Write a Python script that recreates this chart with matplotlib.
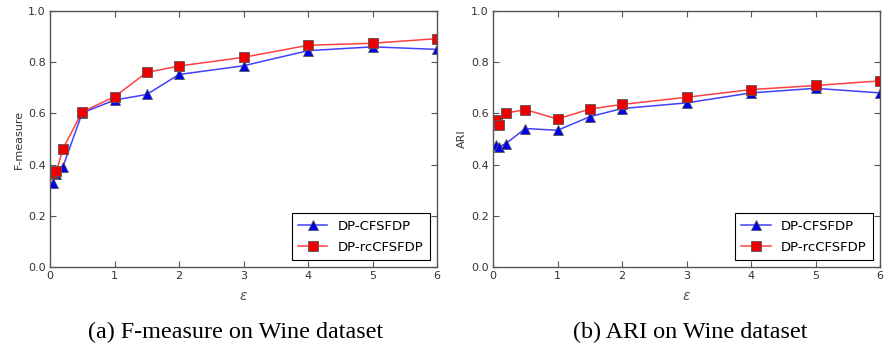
import matplotlib
matplotlib.use("Agg")
import matplotlib.pyplot as plt

eps = [0.05, 0.1, 0.2, 0.5, 1, 1.5, 2, 3, 4, 5, 6]
f_cfsfdp = [0.329, 0.362, 0.391, 0.602, 0.652, 0.674, 0.752, 0.786, 0.845, 0.860, 0.850]
f_rc = [0.368, 0.374, 0.462, 0.606, 0.665, 0.760, 0.785, 0.819, 0.866, 0.874, 0.892]
ari_cfsfdp = [0.475, 0.470, 0.482, 0.541, 0.534, 0.587, 0.619, 0.641, 0.680, 0.698, 0.680]
ari_rc = [0.574, 0.556, 0.601, 0.615, 0.578, 0.617, 0.635, 0.663, 0.693, 0.709, 0.727]

xticks = [0, 1, 2, 3, 4, 5, 6]
yticks = [0.0, 0.2, 0.4, 0.6, 0.8, 1.0]
ylabels = ["F-measure", "ARI"]
captions = ["(a) F-measure on Wine dataset", "(b) ARI on Wine dataset"]
series = [(f_cfsfdp, f_rc), (ari_cfsfdp, ari_rc)]

fig = plt.figure(figsize=(8.84, 3.52), dpi=100)
lefts = [50 / 884, 493 / 884]
tick_col = "#333333"
for i in range(2):
    ax = fig.add_axes([lefts[i], 1 - 267 / 352, 387 / 884, 256 / 352])
    b, r = series[i]
    ax.plot(eps, b, color=(0, 0, 1, 0.75), marker="^", markersize=6.5, lw=1.1,
            markerfacecolor="#0000ee", markeredgecolor="#555555",
            markeredgewidth=0.6, label="DP-CFSFDP")
    ax.plot(eps, r, color=(1, 0, 0, 0.75), marker="s", markersize=6.5, lw=1.1,
            markerfacecolor="#ee0000", markeredgecolor="#555555",
            markeredgewidth=0.6, label="DP-rcCFSFDP")
    ax.set_xlim(0, 6)
    ax.set_ylim(0, 1)
    ax.set_xticks(xticks)
    ax.set_yticks(yticks)
    ax.set_yticklabels([f"{v:.1f}" for v in yticks])
    ax.tick_params(direction="in", top=True, right=True, labelsize=8,
                   colors="#555555", labelcolor=tick_col, length=4, pad=3)
    for s in ax.spines.values():
        s.set_color("#555555")
        s.set_linewidth(1.0)
    ax.set_ylabel(ylabels[i], fontsize=8, color=tick_col, labelpad=3)
    ax.set_xlabel(r"$\varepsilon$", fontsize=10, color="#555555", labelpad=6)
    leg = ax.legend(loc="lower right", fontsize=9.5, fancybox=False, framealpha=1,
                    edgecolor="black", borderpad=0.5, handlelength=2.2,
                    labelspacing=0.6, borderaxespad=0.5)
    leg.get_frame().set_linewidth(0.8)
    cx = lefts[i] + 387 / 884 / 2 - (8 / 884 if i == 0 else -4 / 884)
    fig.text(cx, 1 - 332 / 352, captions[i], ha="center", va="center",
             fontsize=17.4, family="Liberation Serif")

fig.savefig("out.png", dpi=100)
